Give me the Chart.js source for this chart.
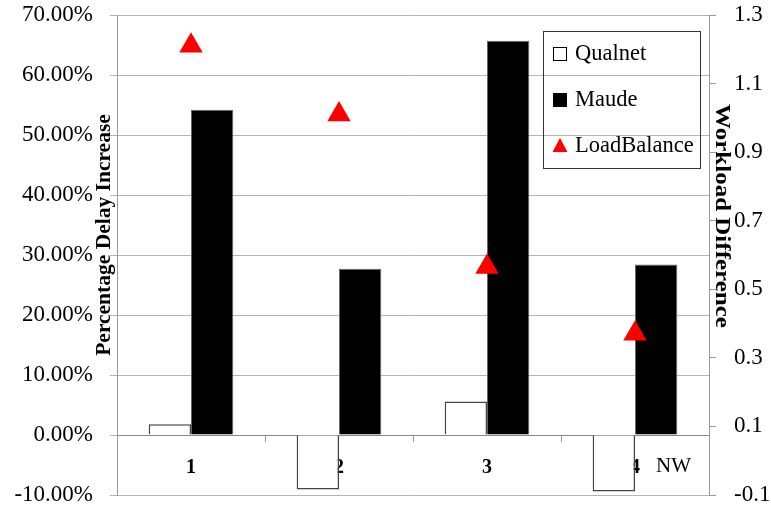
<!DOCTYPE html>
<html>
<head>
<meta charset="utf-8">
<script src="https://cdn.jsdelivr.net/npm/chart.js@4.4.1/dist/chart.umd.min.js"></script>
<style>
  html, body { margin: 0; padding: 0; background: #fff; }
  #wrap { width: 771px; height: 510px; position: relative; }
</style>
</head>
<body>
<div id="wrap"><canvas id="chart"></canvas></div>
<script>
// Network sizes on the x axis
const categories = ["1", "2", "3", "4"];
// Percentage delay increase (left axis, in %)
const qualnet = [1.8, -9.1, 5.6, -9.4];
const maude = [54.2, 27.7, 65.7, 28.4];
// Workload difference (right axis)
const loadBalance = [1.21, 1.01, 0.565, 0.37];

const delayRange = [-10, 70];
const workloadRange = [-0.1, 1.3];

const SERIF = "'Liberation Serif', 'Times New Roman', serif";
Chart.defaults.font.family = SERIF;
Chart.defaults.color = "#000";

// Legend drawn as a bordered box inside the plot area
const boxLegend = {
    id: "boxLegend",
    afterDraw(chart) {
        const ctx = chart.ctx;
        ctx.save();
        ctx.strokeStyle = "#333";
        ctx.lineWidth = 1;
        ctx.strokeRect(543.5, 31.5, 157, 137);

        ctx.font = "22.5px " + SERIF;
        ctx.fillStyle = "#000";
        ctx.textBaseline = "middle";
        const rows = [54, 100, 146];
        chart.data.datasets.forEach((ds, i) => {
            const y = rows[i];
            if (ds.type === "line") {
                ctx.fillStyle = "#ff0000";
                ctx.beginPath();
                ctx.moveTo(560, y - 8);
                ctx.lineTo(567.5, y + 6);
                ctx.lineTo(552.5, y + 6);
                ctx.closePath();
                ctx.fill();
            } else {
                ctx.fillStyle = ds.backgroundColor;
                ctx.fillRect(553, y - 7, 14, 14);
                ctx.strokeStyle = "#000";
                ctx.strokeRect(553.5, y - 6.5, 13, 13);
            }
            ctx.fillStyle = "#000";
            ctx.fillText(ds.label, 575, y);
        });
        ctx.restore();
    }
};

// Rotated axis titles and the "NW" caption
const axisTitles = {
    id: "axisTitles",
    afterDraw(chart) {
        const ctx = chart.ctx;
        ctx.save();
        ctx.fillStyle = "#000";
        ctx.textAlign = "center";
        ctx.textBaseline = "middle";

        ctx.save();
        ctx.font = "bold 21.5px " + SERIF;
        ctx.translate(104, 235);
        ctx.rotate(-Math.PI / 2);
        ctx.fillText("Percentage Delay Increase", 0, 0);
        ctx.restore();

        ctx.save();
        ctx.font = "bold 20px " + SERIF;
        ctx.translate(721, 216);
        ctx.rotate(Math.PI / 2);
        ctx.scale(1.25, 1);
        ctx.fillText("Workload Difference", 0, 0);
        ctx.restore();

        ctx.font = "21px " + SERIF;
        ctx.textAlign = "left";
        ctx.fillText("NW", 656, 466);
        ctx.restore();
    }
};

// Fixed axis widths, and no extra room for the end labels
const fitY = width => scale => {
    scale.width = width;
    scale.paddingTop = 0;
    scale.paddingBottom = 0;
};

new Chart(document.getElementById("chart"), {
    data: {
        labels: categories,
        datasets: [
            {
                type: "bar",
                label: "Qualnet",
                data: qualnet,
                backgroundColor: "#ffffff",
                borderColor: "#444",
                borderWidth: 1.5,
                yAxisID: "y",
                order: 2
            },
            {
                type: "bar",
                label: "Maude",
                data: maude,
                backgroundColor: "#000000",
                borderColor: "#666",
                borderWidth: 1,
                yAxisID: "y",
                order: 2
            },
            {
                type: "line",
                label: "LoadBalance",
                data: loadBalance,
                showLine: false,
                pointStyle: "triangle",
                pointRadius: 13.5,
                pointHoverRadius: 13.5,
                pointBackgroundColor: "#ff0000",
                pointBorderWidth: 0,
                yAxisID: "y1",
                order: 1
            }
        ]
    },
    options: {
        responsive: true,
        maintainAspectRatio: false,
        animation: false,
        layout: { padding: { top: 15, bottom: 15, left: 0, right: 0 } },
        datasets: {
            bar: { barPercentage: 1, categoryPercentage: 0.572 }
        },
        plugins: {
            legend: { display: false },
            tooltip: { enabled: false }
        },
        scales: {
            x: {
                position: { y: 0 },
                z: 1,
                grid: {
                    offset: true,
                    drawOnChartArea: false,
                    tickLength: 6,
                    color: "#999"
                },
                border: { color: "#888" },
                ticks: {
                    font: { size: 20, weight: "bold" },
                    padding: 15,
                    maxRotation: 0
                },
                afterFit: scale => {
                    scale.height = 0;
                    scale.paddingLeft = 0;
                    scale.paddingRight = 0;
                }
            },
            y: {
                position: "left",
                min: delayRange[0],
                max: delayRange[1],
                grid: { color: "#b4b4b4", tickLength: 7 },
                border: { color: "#999" },
                ticks: {
                    stepSize: 10,
                    font: { size: 23 },
                    padding: 17,
                    callback: v => v.toFixed(2) + "%"
                },
                afterFit: fitY(117)
            },
            y1: {
                position: "right",
                min: workloadRange[0],
                max: workloadRange[1],
                grid: { drawOnChartArea: false, color: "#999", tickLength: 7 },
                border: { color: "#999" },
                ticks: {
                    stepSize: 0.2,
                    font: { size: 23 },
                    padding: 18,
                    callback: v => v.toFixed(1)
                },
                afterFit: fitY(62)
            }
        }
    },
    plugins: [boxLegend, axisTitles]
});
</script>
</body>
</html>
